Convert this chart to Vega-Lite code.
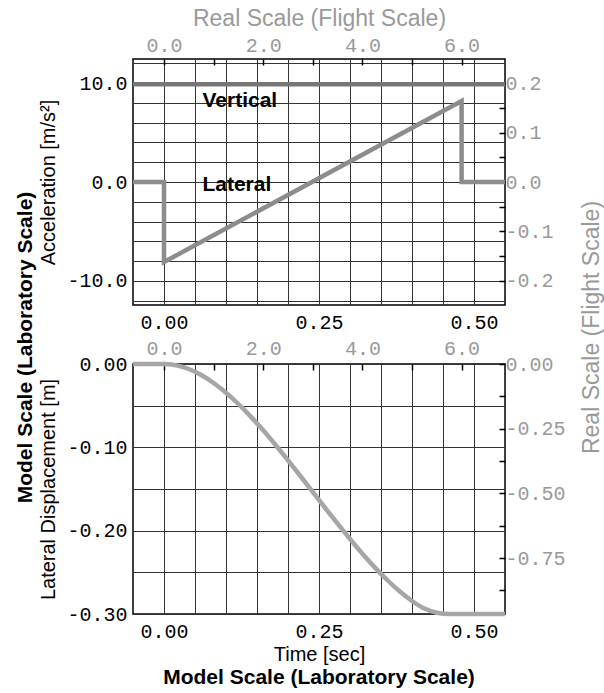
{
  "$schema": "https://vega.github.io/schema/vega-lite/v6.json",
  "background": "white",
  "padding": {"left": 15, "top": 6, "right": 2, "bottom": 2},
  "config": {
    "view": {"stroke": "black", "strokeWidth": 1.5},
    "axis": {
      "domain": false,
      "labelFont": "Liberation Mono",
      "labelFontSize": 20,
      "labelColor": "black",
      "titleFont": "Liberation Sans",
      "titleFontSize": 20,
      "titleFontWeight": "normal",
      "titleColor": "black",
      "gridColor": "#333333",
      "gridWidth": 1,
      "gridOpacity": 1,
      "tickColor": "black",
      "labelOverlap": false,
      "labelFlush": false
    }
  },
  "title": {"text": "Model Scale (Laboratory Scale)", "orient": "left", "anchor": "middle", "font": "Liberation Sans", "fontSize": 21, "fontWeight": "bold", "color": "black", "offset": 2},
  "spacing": 59,
  "bounds": "flush",
  "datasets": {
    "accel": [
      {"series": "Vertical", "i": 0, "t": -0.05, "a": 9.9},
      {"series": "Vertical", "i": 1, "t": 0.55, "a": 9.9},
      {"series": "Lateral", "i": 0, "t": -0.05, "a": 0},
      {"series": "Lateral", "i": 1, "t": 0.0, "a": 0},
      {"series": "Lateral", "i": 2, "t": 0.0, "a": -8.1},
      {"series": "Lateral", "i": 3, "t": 0.48, "a": 8.2},
      {"series": "Lateral", "i": 4, "t": 0.48, "a": 0},
      {"series": "Lateral", "i": 5, "t": 0.55, "a": 0}
    ],
    "labels": [
      {"label": "Vertical", "t": 0.062, "a": 8.2},
      {"label": "Lateral", "t": 0.062, "a": -0.35}
    ],
    "disp": [
      {"t": -0.05, "d": 0},
      {"t": 0.0, "d": 0},
      {"t": 0.02, "d": -0.0016},
      {"t": 0.04, "d": -0.006},
      {"t": 0.06, "d": -0.0132},
      {"t": 0.08, "d": -0.0228},
      {"t": 0.10, "d": -0.0344},
      {"t": 0.12, "d": -0.048},
      {"t": 0.14, "d": -0.0632},
      {"t": 0.16, "d": -0.0796},
      {"t": 0.18, "d": -0.0972},
      {"t": 0.20, "d": -0.1156},
      {"t": 0.22, "d": -0.1344},
      {"t": 0.24, "d": -0.1536},
      {"t": 0.26, "d": -0.1728},
      {"t": 0.28, "d": -0.1916},
      {"t": 0.30, "d": -0.21},
      {"t": 0.32, "d": -0.2276},
      {"t": 0.34, "d": -0.244},
      {"t": 0.36, "d": -0.2592},
      {"t": 0.38, "d": -0.2728},
      {"t": 0.40, "d": -0.2844},
      {"t": 0.42, "d": -0.2935},
      {"t": 0.44, "d": -0.2985},
      {"t": 0.46, "d": -0.3},
      {"t": 0.55, "d": -0.3}
    ]
  },
  "vconcat": [
    {
      "width": 372,
      "height": 246,
      "layer": [
        {
          "data": {"name": "accel"},
          "mark": {"type": "line", "strokeWidth": 4.5},
          "encoding": {
            "x": {"field": "t", "type": "quantitative",
              "scale": {"domain": [-0.05, 0.55], "nice": false, "zero": false},
              "axis": {"orient": "bottom", "title": null, "grid": true, "ticks": false, "tickSize": 0, "labelPadding": 7, "labelOverlap": false,
                "values": [0, 0.05, 0.1, 0.15, 0.2, 0.25, 0.3, 0.35, 0.4, 0.45, 0.5],
                "labelExpr": "abs(datum.value*4 - round(datum.value*4)) < 0.001 ? format(datum.value, '.2f') : ''"}},
            "y": {"field": "a", "type": "quantitative",
              "scale": {"domain": [-12.45, 12.45], "nice": false, "zero": false},
              "axis": {"orient": "left", "title": "Acceleration [m/s²]", "titlePadding": 8, "grid": true, "ticks": false, "tickSize": 0, "labelPadding": 6, "labelOverlap": false,
                "values": [-12, -10, -8, -6, -4, -2, 0, 2, 4, 6, 8, 10, 12],
                "labelExpr": "abs(datum.value) % 10 == 0 ? replace(format(datum.value, '.1f'), '−', '-') : ''"}},
            "color": {"field": "series", "type": "nominal", "legend": null,
              "scale": {"domain": ["Vertical", "Lateral"], "range": ["#777777", "#8c8c8c"]}},
            "order": {"field": "i", "type": "quantitative"}
          }
        },
        {
          "data": {"name": "labels"},
          "mark": {"type": "text", "align": "left", "baseline": "middle", "font": "Liberation Sans", "fontWeight": "bold", "fontSize": 21, "color": "black"},
          "encoding": {
            "x": {"field": "t", "type": "quantitative",
              "axis": {"orient": "top", "title": "Real Scale (Flight Scale)", "titleColor": "#999999", "titleFontSize": 23, "titlePadding": 5,
                "grid": false, "tickSize": -6, "tickWidth": 1.5, "labelPadding": 10, "labelColor": "#999999", "labelOverlap": false,
                "values": [0, 0.08, 0.16, 0.24, 0.32, 0.4, 0.48],
                "labelExpr": "round(datum.value*12.5) % 2 == 0 ? format(datum.value*12.5, '.1f') : ''"}},
            "y": {"field": "a", "type": "quantitative",
              "axis": {"orient": "right", "title": "Real Scale (Flight Scale)", "titleColor": "#999999", "titleFontSize": 23,
                "titleAngle": 270, "titleX": 86, "titleY": 268, "titleAlign": "center", "titleBaseline": "middle",
                "grid": false, "tickSize": -6, "tickWidth": 1.5, "labelPadding": 6, "labelColor": "#999999", "labelOverlap": false,
                "values": [-10, -7.5, -5, -2.5, 0, 2.5, 5, 7.5, 10],
                "labelExpr": "round(datum.value/2.5) % 2 == 0 ? replace(format(datum.value/50, '.1f'), '−', '-') : ''"}},
            "text": {"field": "label", "type": "nominal"}
          }
        }
      ],
      "resolve": {"axis": {"x": "independent", "y": "independent"}}
    },
    {
      "width": 372,
      "height": 250,
      "title": {"text": "Model Scale (Laboratory Scale)", "orient": "bottom", "anchor": "middle", "font": "Liberation Sans", "fontSize": 21, "fontWeight": "bold", "color": "black", "offset": 3},
      "layer": [
        {
          "data": {"name": "disp"},
          "mark": {"type": "line", "strokeWidth": 4.5, "color": "#a6a6a6", "interpolate": "monotone"},
          "encoding": {
            "x": {"field": "t", "type": "quantitative",
              "scale": {"domain": [-0.05, 0.55], "nice": false, "zero": false},
              "axis": {"orient": "bottom", "title": "Time [sec]", "titlePadding": 3, "grid": true, "ticks": false, "tickSize": 0, "labelPadding": 7, "labelOverlap": false,
                "values": [0, 0.05, 0.1, 0.15, 0.2, 0.25, 0.3, 0.35, 0.4, 0.45, 0.5],
                "labelExpr": "abs(datum.value*4 - round(datum.value*4)) < 0.001 ? format(datum.value, '.2f') : ''"}},
            "y": {"field": "d", "type": "quantitative",
              "scale": {"domain": [-0.3, 0], "nice": false, "zero": false},
              "axis": {"orient": "left", "title": "Lateral Displacement [m]", "titlePadding": 8, "grid": true, "ticks": false, "tickSize": 0, "labelPadding": 6, "labelOverlap": false,
                "values": [-0.3, -0.25, -0.2, -0.15, -0.1, -0.05, 0],
                "labelExpr": "abs(datum.value*10 - round(datum.value*10)) < 0.001 ? replace(format(datum.value, '.2f'), '−', '-') : ''"}}
          }
        },
        {
          "data": {"name": "disp"},
          "mark": {"type": "point", "opacity": 0},
          "encoding": {
            "x": {"field": "t", "type": "quantitative",
              "axis": {"orient": "top", "title": null,
                "grid": false, "tickSize": -6, "tickWidth": 1.5, "labelPadding": 12, "labelColor": "#999999", "labelOverlap": false,
                "values": [0, 0.08, 0.16, 0.24, 0.32, 0.4, 0.48],
                "labelExpr": "round(datum.value*12.5) % 2 == 0 ? format(datum.value*12.5, '.1f') : ''"}},
            "y": {"field": "d", "type": "quantitative",
              "axis": {"orient": "right", "title": null,
                "grid": false, "tickSize": -6, "tickWidth": 1.5, "labelPadding": 6, "labelColor": "#999999", "labelOverlap": false,
                "values": [0, -0.03882, -0.07764, -0.11646, -0.15528, -0.1941, -0.23292, -0.27174],
                "labelExpr": "round(datum.value*3.22*8) % 2 == 0 ? replace(format(datum.value*3.22, '.2f'), '−', '-') : ''"}}
          }
        }
      ],
      "resolve": {"axis": {"x": "independent", "y": "independent"}}
    }
  ]
}
